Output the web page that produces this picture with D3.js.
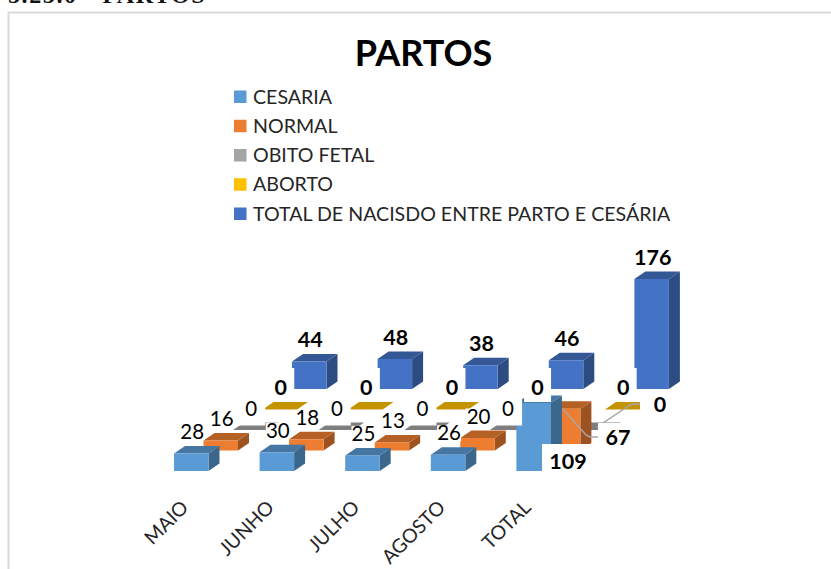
<!DOCTYPE html>
<html><head><meta charset="utf-8">
<script src="https://cdnjs.cloudflare.com/ajax/libs/d3/7.8.5/d3.min.js"></script>
<style>html,body{margin:0;padding:0;background:#fff}svg{display:block}</style>
</head><body><svg id="c" width="831" height="569"></svg>
<script>
const categories = ["MAIO","JUNHO","JULHO","AGOSTO","TOTAL"];
const seriesNames = ["CESARIA","NORMAL","OBITO FETAL","ABORTO","TOTAL DE NACISDO ENTRE PARTO E CESÁRIA"];
const cesaria = [28,30,25,26,109];
const normal = [16,18,13,20,67];
const obito = [0,0,0,0,0];
const aborto = [0,0,0,0,0];
const totalNascido = [44,48,38,46,176];
const seriesValues = [cesaria,normal,obito,aborto,totalNascido];
const frontColors = ["#5b9bd5","#ed7d31","#a5a5a5","#ffc000","#4472c4"];
const titleText = "PARTOS";
const headerText = "5.25.0 - PARTOS";

const svg = d3.select("#c");
const font = "Lato, sans-serif";
const xCat = d3.scaleLinear().domain([0,4]).range([174,174+4*85.6]);
const serX = d3.scaleLinear().domain([0,4]).range([0,118]);
const serY = d3.scaleLinear().domain([0,4]).range([471,389]);
const h = d3.scaleLinear().domain([0,176]).range([0,110]);
const W = 34.5, DX = 11, DY = 7.5;

svg.append("text").attr("x",8).attr("y",3).attr("font-family","Liberation Serif").attr("font-weight","bold").attr("font-size",24).attr("letter-spacing",1.6).attr("fill","#111").text(headerText);
svg.append("path").attr("d","M8.5,569V12.5H831").attr("fill","none").attr("stroke","#d9d9d9").attr("stroke-width",2);
svg.append("text").attr("x",423.5).attr("y",66).attr("text-anchor","middle").attr("font-family",font).attr("font-weight","bold").attr("font-size",36).attr("fill","#000").text(titleText);

const legend = svg.append("g").selectAll("g").data(seriesNames).join("g")
  .attr("transform",(d,i)=>`translate(234,${d3.scaleLinear().domain([0,4]).range([97,214])(i)})`);
legend.append("rect").attr("y",-6.5).attr("width",12.5).attr("height",12.5).attr("fill",(d,i)=>frontColors[i]);
legend.append("text").attr("x",19).attr("y",6.5).attr("font-family",font).attr("font-size",19.6).attr("fill","#262626").text(d=>d);

const bars = [];
for (let s=4;s>=0;s--) categories.forEach((c,i)=>bars.push({s,i,v:seriesValues[s][i]}));
bars.sort((a,b)=>d3.descending(a.s,b.s)||d3.ascending(a.i,b.i));
const gb = svg.append("g");
bars.forEach(b=>{
  const x0 = xCat(b.i)+serX(b.s), y0 = serY(b.s), ht = h(b.v);
  const col = d3.color(frontColors[b.s]);
  const g = gb.append("g");
  g.append("path").attr("d",`M${x0+W},${y0}V${y0-ht}l${DX},${-DY}V${y0-DY}Z`).attr("fill",col.darker(1.15));
  g.append("path").attr("d",`M${x0},${y0-ht}l${DX},${-DY}H${x0+W+DX}l${-DX},${DY}Z`).attr("fill",col.darker(0.75));
  if (ht>0) g.append("rect").attr("x",x0).attr("y",y0-ht).attr("width",W).attr("height",ht).attr("fill",col);
});

// data label boxes and texts
const boxes = [
  {hw:12,up:8,dn:8,bold:false},
  {hw:13,up:8,dn:8,bold:false},
  {hw:14,up:17,dn:17,bold:false},
  {hw:13.5,up:20,dn:14,bold:true},
  {hw:20,up:8,dn:8,bold:true}
];
const gl = svg.append("g");
function label(v,cx,cy,b,bold){
  gl.append("rect").attr("x",cx-b[0]).attr("y",cy-b[2]).attr("width",b[0]+b[1]).attr("height",b[2]+b[3]).attr("fill","#fff");
  gl.append("text").attr("x",cx).attr("y",cy+7).attr("text-anchor","middle").attr("font-family",font)
    .attr("font-size",bold?21.5:20.5).attr("font-weight",bold?"bold":"normal").attr("fill","#000").text(v);
}
for (let s=0;s<5;s++) categories.forEach((c,i)=>{
  const v = seriesValues[s][i], bx = boxes[s];
  const cx = xCat(i)+serX(s)+W/2, top = serY(s)-h(v);
  if (i===4 && s<3) return;
  label(v,cx+1,top-21.5,[bx.hw,bx.hw,bx.up,bx.dn],bx.bold);
});
// callouts of the last column
const lead = d3.line();
[[[563,409],[586,435],[590,437],[598,437]],[[597,427],[630,405],[634,404],[640,404]]].forEach(p=>
  gl.append("path").attr("d",lead(p)).attr("fill","none").attr("stroke","#a6a6a6").attr("stroke-width",1.5));
label(cesaria[4],568,462,[26,26,18,18],true);
label(normal[4],618,438,[20,20,15,15],true);
label(obito[4],660,405,[20,20,15,15],true);

svg.append("g").selectAll("text").data(categories).join("text")
  .attr("transform",(d,i)=>`translate(${xCat(i)+6},499) rotate(-45)`)
  .attr("text-anchor","end").attr("dy","0.7em").attr("font-family",font).attr("font-size",19.5).attr("fill","#262626").text(d=>d);
</script></body></html>
